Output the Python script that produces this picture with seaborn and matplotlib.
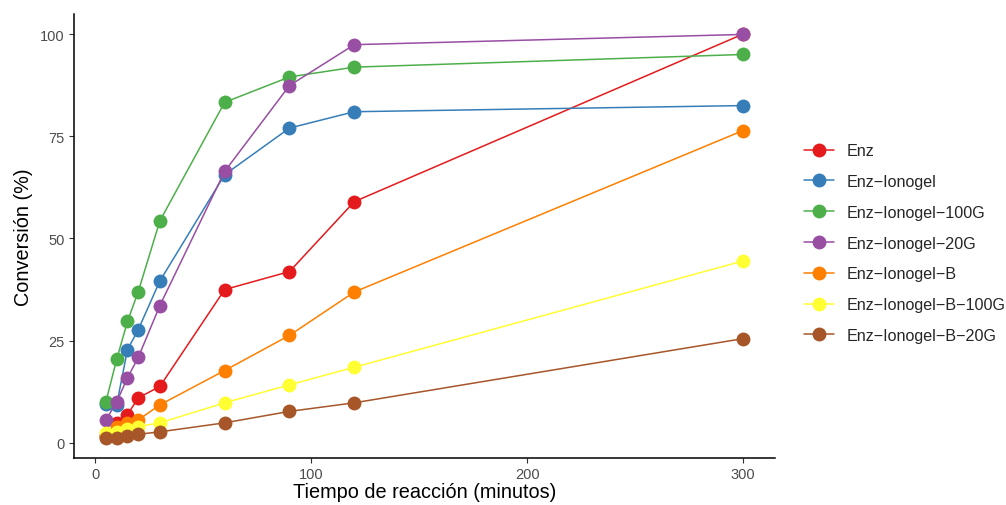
import numpy as np
import pandas as pd
import matplotlib
matplotlib.use("Agg")
import matplotlib.pyplot as plt
import seaborn as sns

# Reaction times (minutes)
tiempo = [5, 10, 15, 20, 30, 60, 90, 120, 300]

# Conversion (%) for each catalyst
enz = [2.0, 4.9, 6.9, 11.0, 13.8, 37.5, 41.9, 59.0, 100.0]
enz_ionogel = [9.5, 9.3, 22.8, 27.7, 39.6, 65.6, 77.0, 81.0, 82.5]
enz_ionogel_100g = [10.0, 20.4, 29.7, 37.0, 54.3, 83.3, 89.5, 91.9, 95.0]
enz_ionogel_20g = [5.6, 10.0, 15.9, 20.9, 33.6, 66.4, 87.4, 97.4, 99.9]
enz_ionogel_b = [1.5, 3.8, 4.9, 5.6, 9.3, 17.7, 26.3, 36.9, 76.4]
enz_ionogel_b_100g = [2.5, 2.6, 3.3, 4.0, 4.9, 9.8, 14.2, 18.5, 44.5]
enz_ionogel_b_20g = [1.2, 1.3, 1.6, 2.1, 2.7, 4.9, 7.7, 9.8, 25.5]

series_names = ["Enz", "Enz\u2212Ionogel", "Enz\u2212Ionogel\u2212100G",
                "Enz\u2212Ionogel\u221220G", "Enz\u2212Ionogel\u2212B",
                "Enz\u2212Ionogel\u2212B\u2212100G", "Enz\u2212Ionogel\u2212B\u221220G"]
series_values = [enz, enz_ionogel, enz_ionogel_100g, enz_ionogel_20g,
                 enz_ionogel_b, enz_ionogel_b_100g, enz_ionogel_b_20g]

colors = ["#E41A1C", "#377EB8", "#4DAF4A", "#984EA3", "#FF7F00", "#FFFF33", "#A65628"]

df = pd.DataFrame({
    "tiempo": np.tile(tiempo, len(series_names)),
    "conversion": np.concatenate(series_values),
    "muestra": np.repeat(series_names, len(tiempo)),
})

sns.set_theme(style="ticks")
plt.rcParams["font.family"] = ["Liberation Sans", "DejaVu Sans"]

fig = plt.figure(figsize=(10.06, 5.06), dpi=100)
ax = fig.add_axes([74 / 1006, 1 - 459 / 506, (775 - 74) / 1006, (459 - 15) / 506])

sns.lineplot(data=df, x="tiempo", y="conversion", hue="muestra",
             hue_order=series_names, palette=colors, marker="o",
             markersize=10, markeredgewidth=0, linewidth=1.1,
             ax=ax, legend=True)

ax.set_xlim(-9.75, 314.75)
ax.set_ylim(-3.7, 104.9)
ax.set_xticks([0, 100, 200, 300])
ax.set_yticks([0, 25, 50, 75, 100])
ax.tick_params(axis="both", colors="#4D4D4D", labelsize=10.5, length=3.5, width=0.8,
               direction="out", pad=3)
ax.tick_params(axis="both", color="#333333")
for s in ["left", "bottom"]:
    ax.spines[s].set_color("black")
    ax.spines[s].set_linewidth(1.1)
sns.despine(ax=ax)

ax.set_xlabel("Tiempo de reacción (minutos)", fontsize=14.3, color="black", labelpad=1)
ax.set_ylabel("Conversión (%)", fontsize=14.3, color="black", labelpad=5)

leg = ax.legend(loc="center left", bbox_to_anchor=(1.032, 0.484), frameon=False,
                fontsize=11.6, handlelength=1.85, handletextpad=0.8,
                labelspacing=0.98, borderaxespad=0)
for line in leg.get_lines():
    line.set_markersize(10)
    line.set_linewidth(1.1)

fig.savefig("out.png", dpi=100)
